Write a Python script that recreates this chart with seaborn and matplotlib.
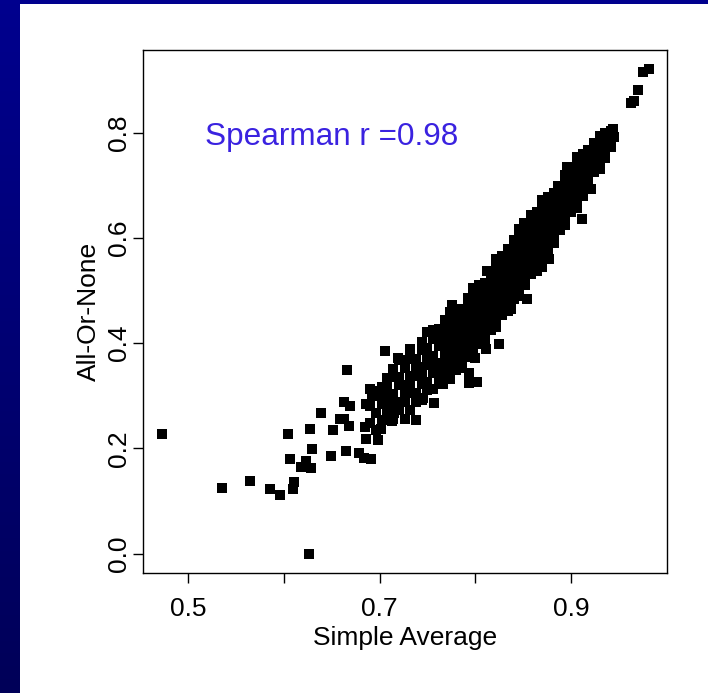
import numpy as np
import pandas as pd
import matplotlib
matplotlib.use("Agg")
import matplotlib.pyplot as plt
import seaborn as sns

# ---- data ----
# scattered / outlying points (Simple Average, All-Or-None)
out_x = [0.473, 0.535, 0.565, 0.585, 0.596, 0.604, 0.606, 0.609, 0.610, 0.618,
         0.623, 0.628, 0.626, 0.627, 0.629, 0.639, 0.649, 0.651, 0.659, 0.666,
         0.663, 0.668, 0.663, 0.669, 0.665, 0.678, 0.684, 0.691, 0.686, 0.698,
         0.685, 0.701, 0.686, 0.692, 0.697, 0.704, 0.713, 0.715, 0.738, 0.757,
         0.793, 0.793, 0.802, 0.800, 0.825, 0.811, 0.706, 0.744, 0.732, 0.719]
out_y = [0.227, 0.124, 0.138, 0.123, 0.111, 0.227, 0.179, 0.122, 0.136, 0.165,
         0.176, 0.162, 0.000, 0.236, 0.198, 0.268, 0.185, 0.234, 0.255, 0.348,
         0.255, 0.242, 0.289, 0.280, 0.195, 0.192, 0.182, 0.179, 0.217, 0.215,
         0.240, 0.236, 0.284, 0.299, 0.309, 0.299, 0.252, 0.268, 0.253, 0.287,
         0.344, 0.325, 0.327, 0.372, 0.398, 0.388, 0.385, 0.399, 0.388, 0.372]

# points on the edges of the band and at the top end
edge_x = [0.981, 0.975, 0.970, 0.966, 0.963, 0.944, 0.945, 0.924, 0.931, 0.912,
          0.921, 0.834, 0.861, 0.886, 0.925, 0.854, 0.837, 0.877, 0.911, 0.921,
          0.776, 0.812, 0.851, 0.896, 0.766, 0.745]
edge_y = [0.921, 0.915, 0.881, 0.860, 0.856, 0.806, 0.792, 0.781, 0.768, 0.743,
          0.749, 0.578, 0.624, 0.698, 0.781, 0.483, 0.464, 0.559, 0.636, 0.692,
          0.472, 0.538, 0.628, 0.735, 0.322, 0.296]

# dense band: column x values and the y values seen in each column
band_cols = [0.690, 0.696, 0.702, 0.708, 0.714, 0.720, 0.726, 0.732, 0.738, 0.744,
             0.750, 0.756, 0.762, 0.768, 0.774, 0.780, 0.786, 0.792, 0.798, 0.804,
             0.810, 0.816, 0.822, 0.828, 0.834, 0.840, 0.846, 0.852, 0.858, 0.864,
             0.870, 0.876, 0.882, 0.888, 0.894, 0.900, 0.906, 0.912, 0.918, 0.924,
             0.930, 0.936, 0.942]
band_vals = [
    [0.249, 0.281, 0.313],
    [0.235, 0.267, 0.299],
    [0.253, 0.285, 0.317],
    [0.270, 0.286, 0.318, 0.334],
    [0.255, 0.287, 0.303, 0.335, 0.351],
    [0.272, 0.288, 0.320, 0.336, 0.368],
    [0.256, 0.288, 0.304, 0.320, 0.352, 0.368],
    [0.273, 0.305, 0.321, 0.337, 0.369, 0.385],
    [0.289, 0.305, 0.337, 0.353, 0.369],
    [0.291, 0.323, 0.339, 0.355, 0.387, 0.403],
    [0.310, 0.326, 0.358, 0.374, 0.390, 0.422],
    [0.312, 0.344, 0.360, 0.376, 0.408, 0.424],
    [0.330, 0.346, 0.362, 0.394, 0.410, 0.426],
    [0.331, 0.347, 0.363, 0.379, 0.395, 0.411, 0.427, 0.443],
    [0.332, 0.348, 0.364, 0.380, 0.396, 0.412, 0.428, 0.444, 0.460],
    [0.349, 0.365, 0.381, 0.397, 0.413, 0.429, 0.445, 0.461],
    [0.353, 0.369, 0.385, 0.401, 0.417, 0.433, 0.449, 0.465],
    [0.373, 0.389, 0.405, 0.421, 0.437, 0.453, 0.469, 0.485],
    [0.377, 0.393, 0.409, 0.425, 0.441, 0.457, 0.473, 0.489, 0.505],
    [0.398, 0.414, 0.430, 0.446, 0.462, 0.478, 0.494, 0.510],
    [0.403, 0.419, 0.435, 0.451, 0.467, 0.483, 0.499, 0.515],
    [0.425, 0.441, 0.457, 0.473, 0.489, 0.505, 0.521, 0.537],
    [0.431, 0.447, 0.463, 0.479, 0.495, 0.511, 0.527, 0.543, 0.559],
    [0.454, 0.470, 0.486, 0.502, 0.518, 0.534, 0.550, 0.566],
    [0.461, 0.477, 0.493, 0.509, 0.525, 0.541, 0.557, 0.573],
    [0.484, 0.500, 0.516, 0.532, 0.548, 0.564, 0.580, 0.596],
    [0.489, 0.505, 0.521, 0.537, 0.553, 0.569, 0.585, 0.601, 0.617],
    [0.511, 0.527, 0.543, 0.559, 0.575, 0.591, 0.607, 0.623],
    [0.532, 0.548, 0.564, 0.580, 0.596, 0.612, 0.628, 0.644],
    [0.538, 0.554, 0.570, 0.586, 0.602, 0.618, 0.634, 0.650],
    [0.544, 0.560, 0.576, 0.592, 0.608, 0.624, 0.640, 0.656, 0.672],
    [0.566, 0.582, 0.598, 0.614, 0.630, 0.646, 0.662, 0.678],
    [0.590, 0.606, 0.622, 0.638, 0.654, 0.670, 0.686],
    [0.615, 0.631, 0.647, 0.663, 0.679, 0.695],
    [0.624, 0.640, 0.656, 0.672, 0.688, 0.704, 0.720],
    [0.650, 0.666, 0.682, 0.698, 0.714, 0.730],
    [0.657, 0.673, 0.689, 0.705, 0.721, 0.737, 0.753],
    [0.680, 0.696, 0.712, 0.728, 0.744, 0.760],
    [0.703, 0.719, 0.735, 0.751, 0.767],
    [0.725, 0.741, 0.757, 0.773],
    [0.730, 0.746, 0.762, 0.778, 0.794],
    [0.752, 0.768, 0.784, 0.800],
    [0.772, 0.788, 0.804],
]

x_ticks = [0.5, 0.6, 0.7, 0.8, 0.9]
x_ticklabels = ["0.5", "", "0.7", "", "0.9"]
y_ticks = [0.0, 0.2, 0.4, 0.6, 0.8]
y_ticklabels = ["0.0", "0.2", "0.4", "0.6", "0.8"]
annotation = "Spearman r =0.98"

# ---- assemble ----
bx, by = [], []
for cx, vals in zip(band_cols, band_vals):
    for v in vals:
        bx.append(cx)
        by.append(v)
df = pd.DataFrame({
    "Simple Average": out_x + edge_x + bx,
    "All-Or-None": out_y + edge_y + by,
})

sns.set_theme(style="white")
plt.rcParams["font.family"] = ["Liberation Sans", "DejaVu Sans"]

W, H = 708, 693
fig = plt.figure(figsize=(W / 100, H / 100), dpi=100)
fig.patch.set_facecolor("white")

# blue slide frame (left strip with gradient, thin top strip)
strip = fig.add_axes([0, 0, 20 / W, 1])
grad = np.linspace(0, 1, 256).reshape(-1, 1)
cmap = matplotlib.colors.LinearSegmentedColormap.from_list("frame", ["#00008e", "#000058"])
strip.imshow(grad, aspect="auto", cmap=cmap, extent=[0, 1, 0, 1], origin="upper")
strip.set_axis_off()
top = fig.add_axes([0, 1 - 4 / H, 1, 4 / H])
top.set_facecolor("#00008e")
top.set_xticks([]); top.set_yticks([])
for s in top.spines.values():
    s.set_visible(False)

ax = fig.add_axes([143 / W, 1 - 573 / H, (667 - 143) / W, (573 - 50) / H])
sns.scatterplot(data=df, x="Simple Average", y="All-Or-None", ax=ax,
                marker="s", s=42, color="black", linewidth=0, legend=False)

ax.set_xlim(0.4527, 1.0003)
ax.set_ylim(-0.0368, 0.957)
ax.set_xticks(x_ticks)
ax.set_xticklabels(x_ticklabels)
ax.set_yticks(y_ticks)
ax.set_yticklabels(y_ticklabels, rotation=90, va="center")

for s in ax.spines.values():
    s.set_visible(True)
    s.set_color("black")
    s.set_linewidth(1.0)
ax.tick_params(axis="both", direction="out", length=7.2, width=1.0,
               color="black", labelsize=19, labelcolor="black")
ax.tick_params(axis="x", pad=10)
ax.tick_params(axis="y", pad=1.5)
ax.tick_params(axis="both", which="both", bottom=True, left=True)
ax.set_xlabel("Simple Average", fontsize=19, color="black", labelpad=4)
ax.set_ylabel("All-Or-None", fontsize=19, color="black", labelpad=4)

ax.text(0.5178, 0.7774, annotation, color="#3a22e0", fontsize=22.7,
        ha="left", va="baseline")

fig.savefig("out.png", dpi=100)
